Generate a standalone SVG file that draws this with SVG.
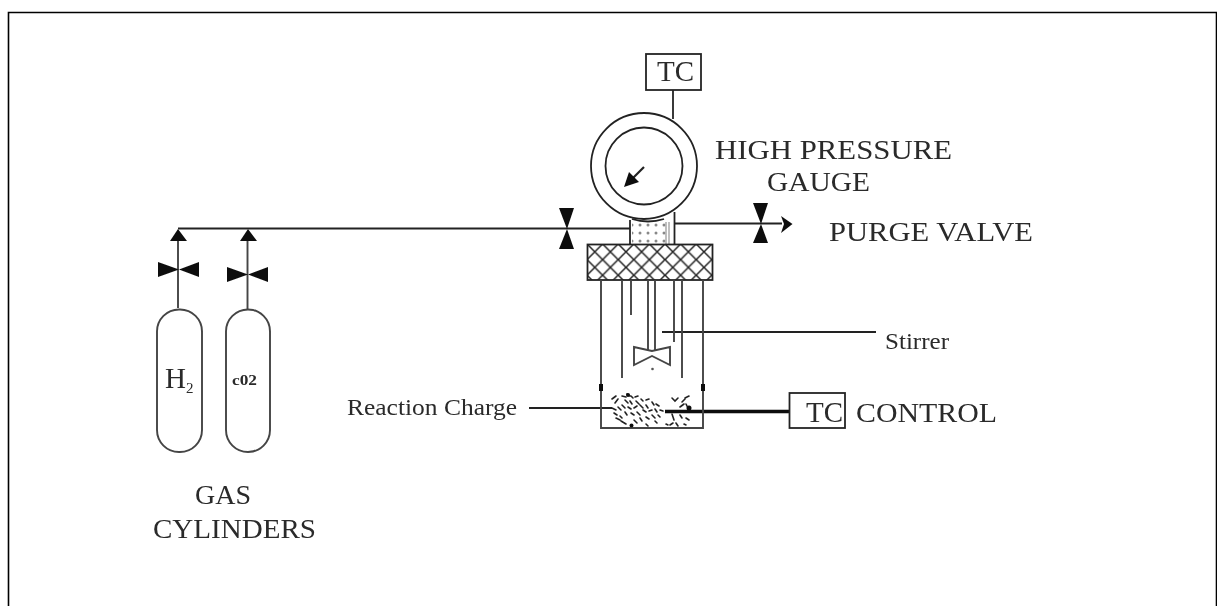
<svg xmlns="http://www.w3.org/2000/svg" width="1217" height="606" viewBox="0 0 1217 606">
<defs>
<pattern id="hatch" width="15.6" height="15.6" patternUnits="userSpaceOnUse" x="587" y="244">
<path d="M0 0L15.6 15.6M15.6 0L0 15.6" stroke="#222" stroke-width="1.5" fill="none"/>
</pattern>
<pattern id="dots" width="8" height="8" patternUnits="userSpaceOnUse" x="636" y="221">
<circle cx="4" cy="4" r="1.500" fill="#888"/>
</pattern>
<filter id="soft" x="-5%" y="-5%" width="110%" height="110%"><feGaussianBlur stdDeviation="0.55"/></filter>
</defs>
<style>
.l{fill:none;stroke:#222;stroke-width:1.8}
.m{fill:none;stroke:#444;stroke-width:1.9}
.k{fill:#111;stroke:none}
text{font-family:"Liberation Serif",serif;fill:#2a2a2a}
.t{font-size:27px}
.s{font-size:23px}
.tc{font-size:29px}
.sp{fill:none;stroke:#222;stroke-width:1.6;stroke-linecap:round}
</style>
<rect width="1217" height="606" fill="#fff"/>
<path d="M8.500 606V12.500H1216.500V606" fill="none" stroke="#000" stroke-width="1.6"/>
<g filter="url(#soft)">
<g id="connectors">
<path class="l" d="M178 228.500H630M675 223.500H782"/>
<path class="m" d="M178 308V241M247.500 309V241"/>
<path class="l" d="M673 90V119"/>
<path class="l" d="M662 332H876M529 408H612"/>
<path d="M665 411.500H790" fill="none" stroke="#111" stroke-width="3.600"/>
<path class="k" d="M170 241L178 229L187 241ZM240 241L248 229L257 241ZM792.500 224L781 216L784 224L781 233Z"/>
</g>
<g id="valve-main"><path class="k" d="M559 208H574L567 229ZM559 249H574L567 229Z"/></g>
<g id="valve-purge"><path class="k" d="M753 203H768L761 224ZM753 243H768L761 224Z"/></g>
<g id="valve-h2"><path class="k" d="M158 262L179 269.500L158 277ZM199 262L179 269.500L199 277Z"/></g>
<g id="valve-co2"><path class="k" d="M227 267L248 274.500L227 282ZM268 267L248 274.500L268 282Z"/></g>
<g id="cylinder-h2">
<rect x="157" y="309.500" width="45" height="142.500" rx="22" ry="22" class="m"/>
<text x="165" y="388" style="font-size:29px">H<tspan font-size="15" dy="5">2</tspan></text>
</g>
<g id="cylinder-co2">
<rect x="226" y="309.500" width="44" height="142.500" rx="22" ry="22" class="m"/>
<text x="232" y="385" textLength="25" lengthAdjust="spacingAndGlyphs" style="font-size:15px;font-weight:bold">c02</text>
</g>
<g id="tc-top">
<rect x="646" y="54" width="55" height="36" class="l"/>
<text x="657" y="81" class="tc">TC</text>
</g>
<g id="gauge">
<circle cx="644" cy="166" r="53" class="l"/>
<circle cx="644" cy="166" r="38.500" class="l"/>
<path d="M644 167L630 181" stroke="#222" stroke-width="2.200" fill="none"/>
<path class="k" d="M624 187L629 172L639 182Z"/>
</g>
<g id="gauge-stem">
<rect x="632" y="221" width="34" height="23" fill="url(#dots)"/>
<path d="M666 222V244M669 222V244" stroke="#aaa" stroke-width="1.500" fill="none"/>
<path class="l" d="M630 220V244M674.500 212V244M632 219Q648 224 664 219"/>
</g>
<g id="flange">
<rect x="587.500" y="244.500" width="125" height="35.500" fill="url(#hatch)" stroke="#222" stroke-width="1.800"/>
</g>
<g id="reactor">
<path class="m" d="M601 280V428H703V280"/>
<path class="k" d="M599 384h4v7h-4zM701 384h4v7h-4z"/>
<path class="m" d="M622 280V378M631 280V315M648 280V350M655 280V350M674 280V342M682 280V378"/>
<path class="m" d="M652 351L634 347V365L652 356L670 365V347Z"/>
<circle cx="652.500" cy="369" r="1.300" fill="#555"/>
</g>
<g id="charge">
<path class="sp" d="M612 399l4-3M615 403l3-4M612 408l4 2M614 413l3 2M618 407l3 3M616 418l4 2M621 421l5 3M622 396l4 1M627 394l3 2M631 396l2 2M635 397l3-1M625 400l3 3M630 401l2 3M636 401l3 3M641 399l2 2M646 400l3-1M622 405l3 3M628 407l3 2M634 408l3-2M640 405l3 3M646 405l2 3M652 402l2 3M656 404l3 2M625 412l2 3M631 413l3 2M637 412l3 3M643 410l3 2M649 411l3-1M655 409l2 3M660 410l3 1M634 420l3 3M640 418l2 3M646 417l3 2M652 415l3 3M658 415l2 2M646 424l2 2M655 421l2 2M620 416l2 2M672 398l3 3 3-3M685 398l4-2M682 402l3-3M680 407l4-3M686 404l2 4M672 414l2 6M680 415l2 3M686 418l3 2M670 425l3-2M676 423l2 3M684 424l2 1M666 424l2 1"/>
<circle cx="631.500" cy="425.500" r="2" fill="#111"/>
<circle cx="628" cy="395" r="2" fill="#111"/>
<circle cx="689" cy="408" r="2.500" fill="#111"/>
</g>
<g id="tc-control">
<rect x="789.500" y="393" width="55.500" height="35" class="l"/>
<text x="806" y="422" class="tc">TC</text>
</g>
<g id="labels">
<text x="715" y="159" class="t" textLength="237" lengthAdjust="spacingAndGlyphs">HIGH PRESSURE</text>
<text x="767" y="191" class="t" textLength="103" lengthAdjust="spacingAndGlyphs">GAUGE</text>
<text x="829" y="241" class="t" textLength="204" lengthAdjust="spacingAndGlyphs">PURGE VALVE</text>
<text x="885" y="349" class="s" textLength="64" lengthAdjust="spacingAndGlyphs">Stirrer</text>
<text x="347" y="415" class="s" textLength="170" lengthAdjust="spacingAndGlyphs">Reaction Charge</text>
<text x="856" y="422" class="t" textLength="141" lengthAdjust="spacingAndGlyphs">CONTROL</text>
<text x="195" y="504" class="t" textLength="56" lengthAdjust="spacingAndGlyphs">GAS</text>
<text x="153" y="538" class="t" textLength="163" lengthAdjust="spacingAndGlyphs">CYLINDERS</text>
</g>
</g>
</svg>
